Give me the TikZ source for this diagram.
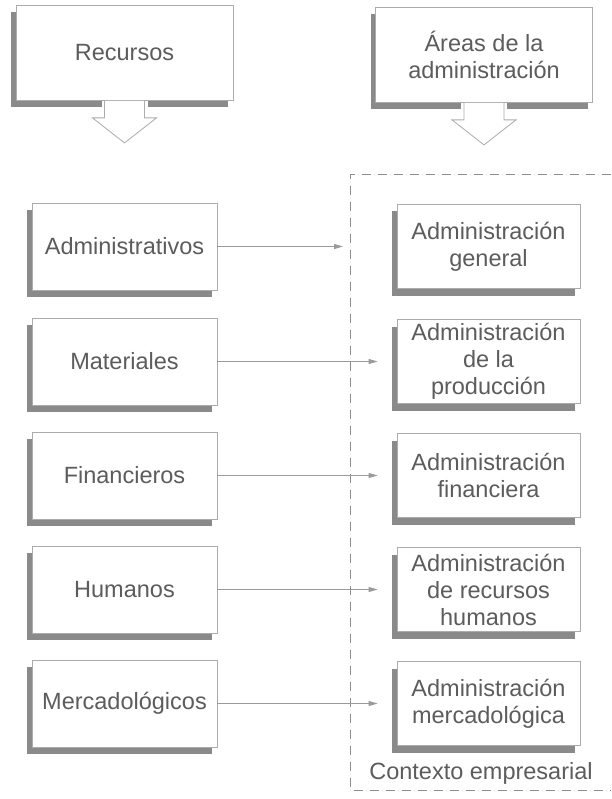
\documentclass[tikz,border=0pt]{standalone}
\usepackage{fontspec}
\setmainfont{Liberation Sans}
\usetikzlibrary{arrows.meta, positioning, calc, shadows}

\definecolor{txtgray}{HTML}{5C5C5C}
\definecolor{boxgray}{HTML}{ABABAB}
\definecolor{shadowgray}{HTML}{8A8A8A}
\definecolor{linegray}{HTML}{9A9A9A}
\definecolor{framegray}{HTML}{8C8C8C}

\begin{document}
\begin{tikzpicture}[
		x=1pt, y=-1pt,
		every node/.style={font=\fontsize{23.5}{27}\selectfont, text=txtgray},
		caja/.style={draw=boxgray, line width=0.8pt, fill=white, inner sep=0pt, align=center,
			drop shadow={shadow xshift=-5pt, shadow yshift=-7pt, fill=shadowgray, opacity=1}},
		recurso/.style={caja, minimum width=185pt, minimum height=87pt},
		area/.style={caja, minimum width=183pt, minimum height=84pt},
		titulo/.style={caja, minimum width=217pt, minimum height=95pt},
		flecha/.style={draw=linegray, line width=0.8pt, -{Triangle[length=9pt, width=5pt]}},
		bajada/.style={draw=boxgray, line width=0.8pt, fill=white},
		marco/.style={draw=framegray, line width=1pt, dash pattern=on 9pt off 7pt}
		]
		
		\useasboundingbox (0,0) rectangle (611,799);
		
		% === TITLE BOXES ===
		\node[titulo] (recursos) at (124.5,53) {Recursos};
		\node[titulo] (areas) at (484,55) {Áreas de la\\administración};
		
		% downward notch arrows
		\foreach \n in {recursos, areas} {
			\fill[white] ($(\n.south)+(-23,0.6)$) rectangle ++(46,9);
			\path[bajada] ($(\n.south)+(-20,0)$) -- ++(0,17) -- ++(-12,0) -- ++(32,25)
			-- ++(32,-25) -- ++(-12,0) -- ++(0,-17);
		}
		
		% === CONTEXT FRAME ===
		\coordinate (ctxne) at (611,175);
		\coordinate (ctxnw) at (350,175);
		\coordinate (ctxsw) at (350,790);
		\coordinate (ctxse) at (611,790);
		\draw[marco] (ctxne) -- (ctxnw) -- (ctxsw) -- (ctxse);
		\node (contexto) at (481,773) {Contexto empresarial};
		
		% === RESOURCES AND AREAS ===
		\foreach \i/\y/\izq/\der in {
			1/246.5/Administrativos/{Administración\\general},
			2/361.5/Materiales/{Administración\\de la\\producción},
			3/475.5/Financieros/{Administración\\financiera},
			4/589.5/Humanos/{Administración\\de recursos\\humanos},
			5/703.5/Mercadológicos/{Administración\\mercadológica}} {
			\node[recurso] (rec\i) at (124.5,\y) {\izq};
			\node[area] (area\i) at (488.5,\y) {\der};
		}
		
		% === CONNECTORS ===
		\draw[flecha, shorten >=7pt] (rec1.east) -- (rec1.east -| ctxnw);
		\foreach \i in {2,...,5} {
			\draw[flecha, shorten >=19pt] (rec\i.east) -- (rec\i.east -| area\i.west);
		}
		
\end{tikzpicture}
\end{document}
